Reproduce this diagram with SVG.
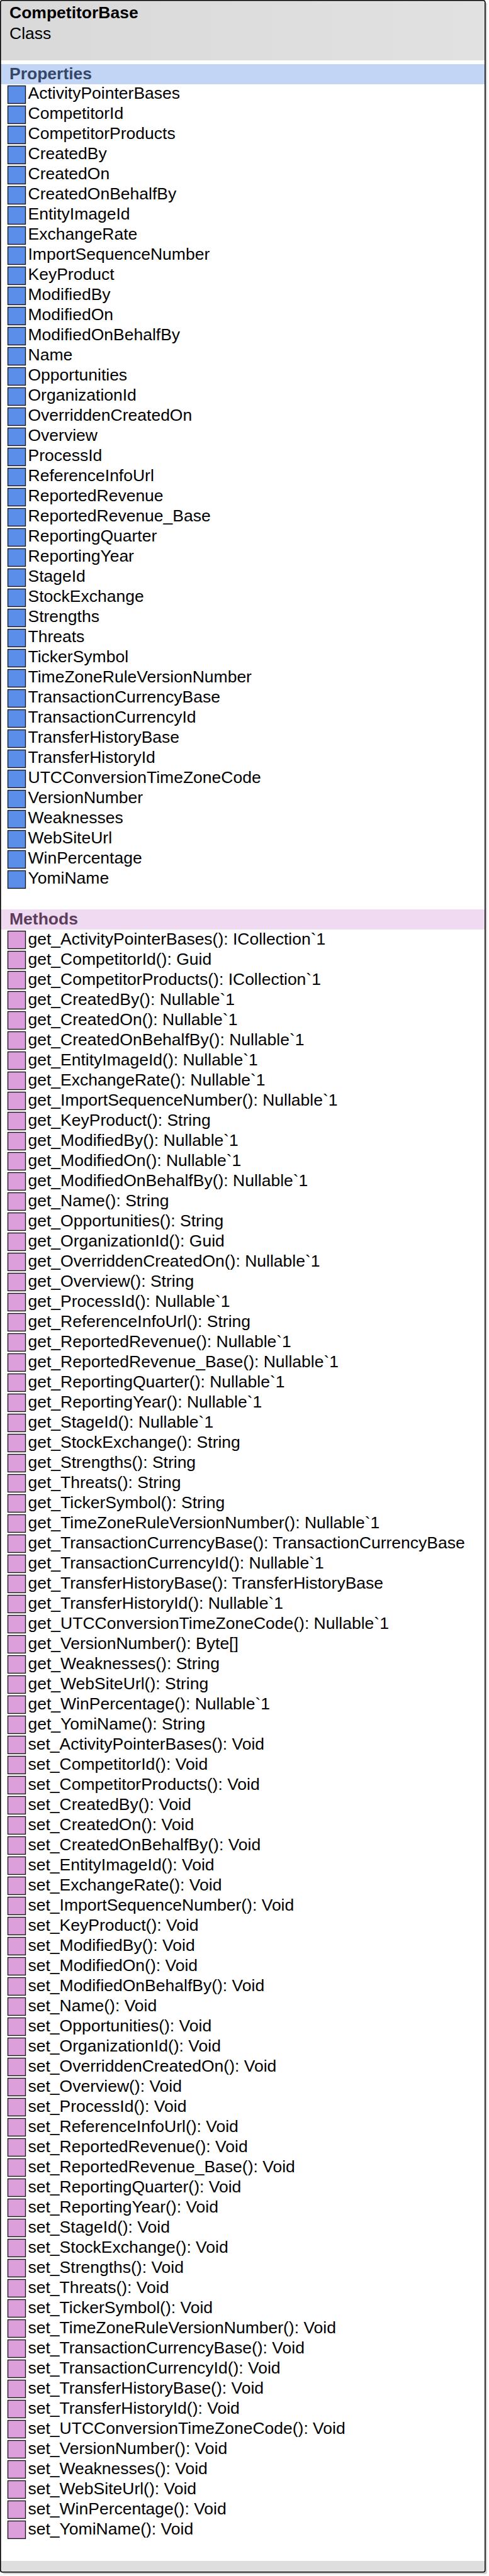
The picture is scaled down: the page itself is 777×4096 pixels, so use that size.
<svg xmlns="http://www.w3.org/2000/svg" xmlns:xlink="http://www.w3.org/1999/xlink" width="777" height="4096" viewBox="0 0 777 4096">
<style>
text{font-family:"Liberation Sans",Arial,sans-serif;font-size:26.5px;fill:#000}
.title{font-weight:bold}
.ph{font-weight:bold;fill:#34476a}
.mh{font-weight:bold;fill:#5c3d5c}
.pi{fill:#5b8ee8;stroke:#111;stroke-width:1.3}
.mi{fill:#dc9fdc;stroke:#111;stroke-width:1.3}
</style>
<defs>
<linearGradient id="hg" x1="0" y1="0" x2="1" y2="0">
<stop offset="0" stop-color="#d9d9d9"/>
<stop offset="1" stop-color="#e1e1e1"/>
</linearGradient>
<rect id="pi" class="pi" x="12.5" y="0.5" width="28" height="28"/>
<rect id="mi" class="mi" x="12.5" y="0.5" width="28" height="28"/>
</defs>
<g id="CompetitorBase">
<rect x="4" y="4" width="770" height="4089" rx="3" fill="#d4d4d4"/>
<rect x="0.8" y="0.8" width="770" height="4089" rx="3" fill="#fff"/>
<rect x="1.5" y="1.5" width="769" height="94.5" fill="url(#hg)"/>
<text class="title" x="15" y="29">CompetitorBase</text>
<text x="15" y="62">Class</text>
<rect x="1.5" y="102" width="769" height="32" fill="#c3d5f5"/>
<text class="ph" x="15" y="126">Properties</text>
<rect x="1.5" y="1446" width="769" height="32" fill="#f0daf1"/>
<text class="mh" x="15" y="1470">Methods</text>
<rect x="1.5" y="4072" width="769" height="17" fill="#dedede"/>
<rect x="0.8" y="0.8" width="770" height="4089" rx="3" fill="none" stroke="#000" stroke-width="1.6"/>
</g>
<g id="properties">
<use xlink:href="#pi" y="136"/><text x="44.5" y="157.3">ActivityPointerBases</text>
<use xlink:href="#pi" y="168"/><text x="44.5" y="189.3">CompetitorId</text>
<use xlink:href="#pi" y="200"/><text x="44.5" y="221.3">CompetitorProducts</text>
<use xlink:href="#pi" y="232"/><text x="44.5" y="253.3">CreatedBy</text>
<use xlink:href="#pi" y="264"/><text x="44.5" y="285.3">CreatedOn</text>
<use xlink:href="#pi" y="296"/><text x="44.5" y="317.3">CreatedOnBehalfBy</text>
<use xlink:href="#pi" y="328"/><text x="44.5" y="349.3">EntityImageId</text>
<use xlink:href="#pi" y="360"/><text x="44.5" y="381.3">ExchangeRate</text>
<use xlink:href="#pi" y="392"/><text x="44.5" y="413.3">ImportSequenceNumber</text>
<use xlink:href="#pi" y="424"/><text x="44.5" y="445.3">KeyProduct</text>
<use xlink:href="#pi" y="456"/><text x="44.5" y="477.3">ModifiedBy</text>
<use xlink:href="#pi" y="488"/><text x="44.5" y="509.3">ModifiedOn</text>
<use xlink:href="#pi" y="520"/><text x="44.5" y="541.3">ModifiedOnBehalfBy</text>
<use xlink:href="#pi" y="552"/><text x="44.5" y="573.3">Name</text>
<use xlink:href="#pi" y="584"/><text x="44.5" y="605.3">Opportunities</text>
<use xlink:href="#pi" y="616"/><text x="44.5" y="637.3">OrganizationId</text>
<use xlink:href="#pi" y="648"/><text x="44.5" y="669.3">OverriddenCreatedOn</text>
<use xlink:href="#pi" y="680"/><text x="44.5" y="701.3">Overview</text>
<use xlink:href="#pi" y="712"/><text x="44.5" y="733.3">ProcessId</text>
<use xlink:href="#pi" y="744"/><text x="44.5" y="765.3">ReferenceInfoUrl</text>
<use xlink:href="#pi" y="776"/><text x="44.5" y="797.3">ReportedRevenue</text>
<use xlink:href="#pi" y="808"/><text x="44.5" y="829.3">ReportedRevenue_Base</text>
<use xlink:href="#pi" y="840"/><text x="44.5" y="861.3">ReportingQuarter</text>
<use xlink:href="#pi" y="872"/><text x="44.5" y="893.3">ReportingYear</text>
<use xlink:href="#pi" y="904"/><text x="44.5" y="925.3">StageId</text>
<use xlink:href="#pi" y="936"/><text x="44.5" y="957.3">StockExchange</text>
<use xlink:href="#pi" y="968"/><text x="44.5" y="989.3">Strengths</text>
<use xlink:href="#pi" y="1000"/><text x="44.5" y="1021.3">Threats</text>
<use xlink:href="#pi" y="1032"/><text x="44.5" y="1053.3">TickerSymbol</text>
<use xlink:href="#pi" y="1064"/><text x="44.5" y="1085.3">TimeZoneRuleVersionNumber</text>
<use xlink:href="#pi" y="1096"/><text x="44.5" y="1117.3">TransactionCurrencyBase</text>
<use xlink:href="#pi" y="1128"/><text x="44.5" y="1149.3">TransactionCurrencyId</text>
<use xlink:href="#pi" y="1160"/><text x="44.5" y="1181.3">TransferHistoryBase</text>
<use xlink:href="#pi" y="1192"/><text x="44.5" y="1213.3">TransferHistoryId</text>
<use xlink:href="#pi" y="1224"/><text x="44.5" y="1245.3">UTCConversionTimeZoneCode</text>
<use xlink:href="#pi" y="1256"/><text x="44.5" y="1277.3">VersionNumber</text>
<use xlink:href="#pi" y="1288"/><text x="44.5" y="1309.3">Weaknesses</text>
<use xlink:href="#pi" y="1320"/><text x="44.5" y="1341.3">WebSiteUrl</text>
<use xlink:href="#pi" y="1352"/><text x="44.5" y="1373.3">WinPercentage</text>
<use xlink:href="#pi" y="1384"/><text x="44.5" y="1405.3">YomiName</text>
</g>
<g id="methods">
<use xlink:href="#mi" y="1480"/><text x="44.5" y="1501.5">get_ActivityPointerBases(): ICollection`1</text>
<use xlink:href="#mi" y="1512"/><text x="44.5" y="1533.5">get_CompetitorId(): Guid</text>
<use xlink:href="#mi" y="1544"/><text x="44.5" y="1565.5">get_CompetitorProducts(): ICollection`1</text>
<use xlink:href="#mi" y="1576"/><text x="44.5" y="1597.5">get_CreatedBy(): Nullable`1</text>
<use xlink:href="#mi" y="1608"/><text x="44.5" y="1629.5">get_CreatedOn(): Nullable`1</text>
<use xlink:href="#mi" y="1640"/><text x="44.5" y="1661.5">get_CreatedOnBehalfBy(): Nullable`1</text>
<use xlink:href="#mi" y="1672"/><text x="44.5" y="1693.5">get_EntityImageId(): Nullable`1</text>
<use xlink:href="#mi" y="1704"/><text x="44.5" y="1725.5">get_ExchangeRate(): Nullable`1</text>
<use xlink:href="#mi" y="1736"/><text x="44.5" y="1757.5">get_ImportSequenceNumber(): Nullable`1</text>
<use xlink:href="#mi" y="1768"/><text x="44.5" y="1789.5">get_KeyProduct(): String</text>
<use xlink:href="#mi" y="1800"/><text x="44.5" y="1821.5">get_ModifiedBy(): Nullable`1</text>
<use xlink:href="#mi" y="1832"/><text x="44.5" y="1853.5">get_ModifiedOn(): Nullable`1</text>
<use xlink:href="#mi" y="1864"/><text x="44.5" y="1885.5">get_ModifiedOnBehalfBy(): Nullable`1</text>
<use xlink:href="#mi" y="1896"/><text x="44.5" y="1917.5">get_Name(): String</text>
<use xlink:href="#mi" y="1928"/><text x="44.5" y="1949.5">get_Opportunities(): String</text>
<use xlink:href="#mi" y="1960"/><text x="44.5" y="1981.5">get_OrganizationId(): Guid</text>
<use xlink:href="#mi" y="1992"/><text x="44.5" y="2013.5">get_OverriddenCreatedOn(): Nullable`1</text>
<use xlink:href="#mi" y="2024"/><text x="44.5" y="2045.5">get_Overview(): String</text>
<use xlink:href="#mi" y="2056"/><text x="44.5" y="2077.5">get_ProcessId(): Nullable`1</text>
<use xlink:href="#mi" y="2088"/><text x="44.5" y="2109.5">get_ReferenceInfoUrl(): String</text>
<use xlink:href="#mi" y="2120"/><text x="44.5" y="2141.5">get_ReportedRevenue(): Nullable`1</text>
<use xlink:href="#mi" y="2152"/><text x="44.5" y="2173.5">get_ReportedRevenue_Base(): Nullable`1</text>
<use xlink:href="#mi" y="2184"/><text x="44.5" y="2205.5">get_ReportingQuarter(): Nullable`1</text>
<use xlink:href="#mi" y="2216"/><text x="44.5" y="2237.5">get_ReportingYear(): Nullable`1</text>
<use xlink:href="#mi" y="2248"/><text x="44.5" y="2269.5">get_StageId(): Nullable`1</text>
<use xlink:href="#mi" y="2280"/><text x="44.5" y="2301.5">get_StockExchange(): String</text>
<use xlink:href="#mi" y="2312"/><text x="44.5" y="2333.5">get_Strengths(): String</text>
<use xlink:href="#mi" y="2344"/><text x="44.5" y="2365.5">get_Threats(): String</text>
<use xlink:href="#mi" y="2376"/><text x="44.5" y="2397.5">get_TickerSymbol(): String</text>
<use xlink:href="#mi" y="2408"/><text x="44.5" y="2429.5">get_TimeZoneRuleVersionNumber(): Nullable`1</text>
<use xlink:href="#mi" y="2440"/><text x="44.5" y="2461.5">get_TransactionCurrencyBase(): TransactionCurrencyBase</text>
<use xlink:href="#mi" y="2472"/><text x="44.5" y="2493.5">get_TransactionCurrencyId(): Nullable`1</text>
<use xlink:href="#mi" y="2504"/><text x="44.5" y="2525.5">get_TransferHistoryBase(): TransferHistoryBase</text>
<use xlink:href="#mi" y="2536"/><text x="44.5" y="2557.5">get_TransferHistoryId(): Nullable`1</text>
<use xlink:href="#mi" y="2568"/><text x="44.5" y="2589.5">get_UTCConversionTimeZoneCode(): Nullable`1</text>
<use xlink:href="#mi" y="2600"/><text x="44.5" y="2621.5">get_VersionNumber(): Byte[]</text>
<use xlink:href="#mi" y="2632"/><text x="44.5" y="2653.5">get_Weaknesses(): String</text>
<use xlink:href="#mi" y="2664"/><text x="44.5" y="2685.5">get_WebSiteUrl(): String</text>
<use xlink:href="#mi" y="2696"/><text x="44.5" y="2717.5">get_WinPercentage(): Nullable`1</text>
<use xlink:href="#mi" y="2728"/><text x="44.5" y="2749.5">get_YomiName(): String</text>
<use xlink:href="#mi" y="2760"/><text x="44.5" y="2781.5">set_ActivityPointerBases(): Void</text>
<use xlink:href="#mi" y="2792"/><text x="44.5" y="2813.5">set_CompetitorId(): Void</text>
<use xlink:href="#mi" y="2824"/><text x="44.5" y="2845.5">set_CompetitorProducts(): Void</text>
<use xlink:href="#mi" y="2856"/><text x="44.5" y="2877.5">set_CreatedBy(): Void</text>
<use xlink:href="#mi" y="2888"/><text x="44.5" y="2909.5">set_CreatedOn(): Void</text>
<use xlink:href="#mi" y="2920"/><text x="44.5" y="2941.5">set_CreatedOnBehalfBy(): Void</text>
<use xlink:href="#mi" y="2952"/><text x="44.5" y="2973.5">set_EntityImageId(): Void</text>
<use xlink:href="#mi" y="2984"/><text x="44.5" y="3005.5">set_ExchangeRate(): Void</text>
<use xlink:href="#mi" y="3016"/><text x="44.5" y="3037.5">set_ImportSequenceNumber(): Void</text>
<use xlink:href="#mi" y="3048"/><text x="44.5" y="3069.5">set_KeyProduct(): Void</text>
<use xlink:href="#mi" y="3080"/><text x="44.5" y="3101.5">set_ModifiedBy(): Void</text>
<use xlink:href="#mi" y="3112"/><text x="44.5" y="3133.5">set_ModifiedOn(): Void</text>
<use xlink:href="#mi" y="3144"/><text x="44.5" y="3165.5">set_ModifiedOnBehalfBy(): Void</text>
<use xlink:href="#mi" y="3176"/><text x="44.5" y="3197.5">set_Name(): Void</text>
<use xlink:href="#mi" y="3208"/><text x="44.5" y="3229.5">set_Opportunities(): Void</text>
<use xlink:href="#mi" y="3240"/><text x="44.5" y="3261.5">set_OrganizationId(): Void</text>
<use xlink:href="#mi" y="3272"/><text x="44.5" y="3293.5">set_OverriddenCreatedOn(): Void</text>
<use xlink:href="#mi" y="3304"/><text x="44.5" y="3325.5">set_Overview(): Void</text>
<use xlink:href="#mi" y="3336"/><text x="44.5" y="3357.5">set_ProcessId(): Void</text>
<use xlink:href="#mi" y="3368"/><text x="44.5" y="3389.5">set_ReferenceInfoUrl(): Void</text>
<use xlink:href="#mi" y="3400"/><text x="44.5" y="3421.5">set_ReportedRevenue(): Void</text>
<use xlink:href="#mi" y="3432"/><text x="44.5" y="3453.5">set_ReportedRevenue_Base(): Void</text>
<use xlink:href="#mi" y="3464"/><text x="44.5" y="3485.5">set_ReportingQuarter(): Void</text>
<use xlink:href="#mi" y="3496"/><text x="44.5" y="3517.5">set_ReportingYear(): Void</text>
<use xlink:href="#mi" y="3528"/><text x="44.5" y="3549.5">set_StageId(): Void</text>
<use xlink:href="#mi" y="3560"/><text x="44.5" y="3581.5">set_StockExchange(): Void</text>
<use xlink:href="#mi" y="3592"/><text x="44.5" y="3613.5">set_Strengths(): Void</text>
<use xlink:href="#mi" y="3624"/><text x="44.5" y="3645.5">set_Threats(): Void</text>
<use xlink:href="#mi" y="3656"/><text x="44.5" y="3677.5">set_TickerSymbol(): Void</text>
<use xlink:href="#mi" y="3688"/><text x="44.5" y="3709.5">set_TimeZoneRuleVersionNumber(): Void</text>
<use xlink:href="#mi" y="3720"/><text x="44.5" y="3741.5">set_TransactionCurrencyBase(): Void</text>
<use xlink:href="#mi" y="3752"/><text x="44.5" y="3773.5">set_TransactionCurrencyId(): Void</text>
<use xlink:href="#mi" y="3784"/><text x="44.5" y="3805.5">set_TransferHistoryBase(): Void</text>
<use xlink:href="#mi" y="3816"/><text x="44.5" y="3837.5">set_TransferHistoryId(): Void</text>
<use xlink:href="#mi" y="3848"/><text x="44.5" y="3869.5">set_UTCConversionTimeZoneCode(): Void</text>
<use xlink:href="#mi" y="3880"/><text x="44.5" y="3901.5">set_VersionNumber(): Void</text>
<use xlink:href="#mi" y="3912"/><text x="44.5" y="3933.5">set_Weaknesses(): Void</text>
<use xlink:href="#mi" y="3944"/><text x="44.5" y="3965.5">set_WebSiteUrl(): Void</text>
<use xlink:href="#mi" y="3976"/><text x="44.5" y="3997.5">set_WinPercentage(): Void</text>
<use xlink:href="#mi" y="4008"/><text x="44.5" y="4029.5">set_YomiName(): Void</text>
</g>
<g id="connectors"/>
</svg>
